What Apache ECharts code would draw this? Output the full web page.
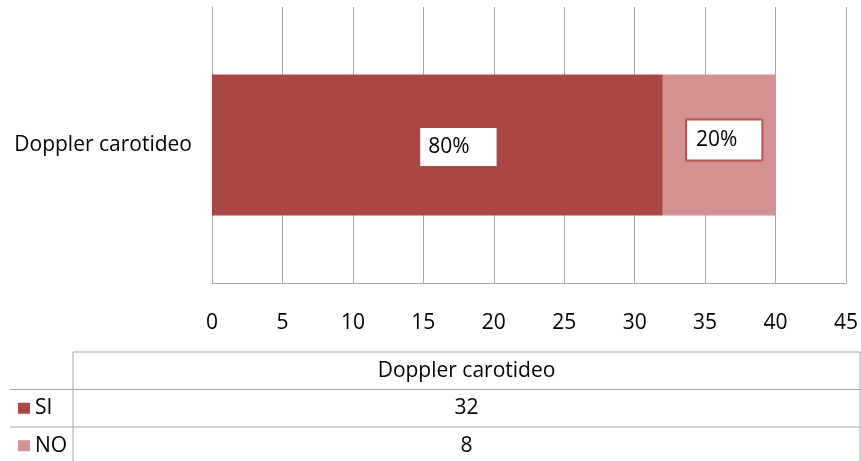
<!DOCTYPE html>
<html>
<head>
<meta charset="utf-8">
<script src="https://cdn.jsdelivr.net/npm/echarts@6/dist/echarts.min.js"></script>
<style>
    html, body { margin: 0; padding: 0; background: #fff; }
    #main { width: 861px; height: 461px; }
</style>
</head>
<body>
<div id="main"></div>
<script>
'use strict';

var categories = ['Doppler carotideo'];
var seriesNames = ['SI', 'NO'];
var siValues = [32];
var noValues = [8];
var xTicks = { min: 0, max: 45, interval: 5 };

var colors = ['#AA4643', '#D39392'];
var fontFamily = '"Open Sans", sans-serif';

var chart = echarts.init(document.getElementById('main'));

// percent of a row total
function pct(params) {
    var i = params.dataIndex;
    var total = siValues[i] + noValues[i];
    return Math.round(params.value / total * 100) + '%';
}

// data table under the axis, built from the arrays
function buildTable() {
    var g = [];
    var left = 73, right = 860, colLeft = 10;
    var top = 352, rowH = 37.5;
    var lineStyle = { stroke: '#A6A6A6', lineWidth: 1 };
    var rows = [siValues, noValues];
    var font = '21px ' + fontFamily;

    g.push({ type: 'line', shape: { x1: left, y1: top, x2: right, y2: top }, style: lineStyle });
    g.push({ type: 'line', shape: { x1: left, y1: top, x2: left, y2: 461 }, style: lineStyle });
    g.push({ type: 'line', shape: { x1: right, y1: top, x2: right, y2: 461 }, style: lineStyle });
    g.push({
        type: 'text', x: (left + right) / 2, y: top + rowH / 2,
        style: { text: categories[0], fill: '#000', font: font, align: 'center', verticalAlign: 'middle' }
    });
    for (var r = 0; r < rows.length; r++) {
        var y = top + rowH * (r + 1);
        g.push({ type: 'line', shape: { x1: colLeft, y1: y, x2: right, y2: y }, style: lineStyle });
        g.push({ type: 'rect', shape: { x: 18, y: y + rowH / 2 - 5.5, width: 12, height: 11 }, style: { fill: colors[r] } });
        g.push({
            type: 'text', x: 35, y: y + rowH / 2,
            style: { text: seriesNames[r], fill: '#000', font: font, verticalAlign: 'middle' }
        });
        g.push({
            type: 'text', x: (left + right) / 2, y: y + rowH / 2,
            style: { text: String(rows[r][0]), fill: '#000', font: font, align: 'center', verticalAlign: 'middle' }
        });
    }
    return g;
}

var option = {
    animation: false,
    textStyle: { fontFamily: fontFamily },
    grid: { left: 212, right: 15, top: 7, bottom: 178, containLabel: false },
    xAxis: {
        type: 'value',
        min: xTicks.min,
        max: xTicks.max,
        interval: xTicks.interval,
        axisLine: { show: true, lineStyle: { color: '#A6A6A6' } },
        axisTick: { show: false },
        axisLabel: { color: '#000', fontSize: 21, margin: 30 },
        splitLine: { show: true, lineStyle: { color: '#A6A6A6' } }
    },
    yAxis: {
        type: 'category',
        data: categories,
        axisLine: { show: true, lineStyle: { color: '#A6A6A6' } },
        axisTick: { show: false },
        axisLabel: { color: '#000', fontSize: 21, margin: 20 }
    },
    series: [{
        name: seriesNames[0],
        type: 'bar',
        stack: 'a',
        barWidth: 141,
        data: siValues,
        itemStyle: { color: colors[0] },
        label: {
            show: true,
            position: 'inside',
            formatter: pct,
            color: '#000',
            fontSize: 21,
            backgroundColor: '#fff',
            padding: [8, 27, 9, 8],
            offset: [21, 2]
        }
    }, {
        name: seriesNames[1],
        type: 'bar',
        stack: 'a',
        barWidth: 141,
        data: noValues,
        itemStyle: { color: colors[1] },
        label: {
            show: true,
            position: 'inside',
            formatter: pct,
            color: '#000',
            fontSize: 21,
            backgroundColor: '#fff',
            borderColor: '#C0504D',
            borderWidth: 2,
            padding: [9, 24, 9, 9],
            offset: [5, -5]
        }
    }],
    graphic: buildTable()
};

chart.setOption(option);
</script>
</body>
</html>
